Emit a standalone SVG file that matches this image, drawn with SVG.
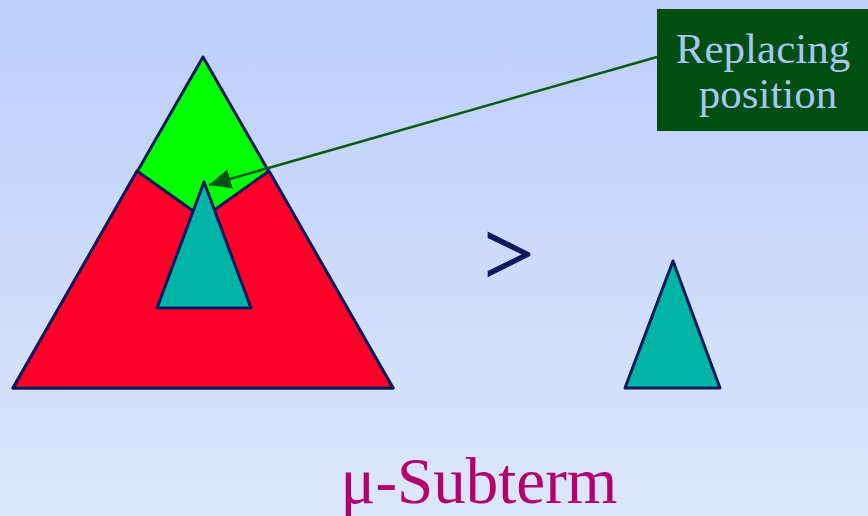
<svg xmlns="http://www.w3.org/2000/svg" width="868" height="516" viewBox="0 0 868 516">
<defs>
<linearGradient id="bg" x1="0" y1="0" x2="0" y2="1">
<stop offset="0" stop-color="#bccffb"/>
<stop offset="1" stop-color="#dce7fc"/>
</linearGradient>
<marker id="ah" markerWidth="24" markerHeight="20" refX="22" refY="10" orient="auto" markerUnits="userSpaceOnUse">
<path d="M0,0 L22,10 L0,20 Z" fill="#005510"/>
</marker>
<style>
.tri{stroke:#0c1a5c;stroke-width:3;stroke-linejoin:round}
.serif{font-family:"Liberation Serif","Times New Roman",serif}
</style>
</defs>
<rect width="868" height="516" fill="url(#bg)"/>
<g id="big-term">
<polygon class="tri" points="203,57 13,388 393,388" fill="#00ff00"/>
<polygon class="tri" points="13,388 137,171 203,218 269,171 393,388" fill="#ff0029"/>
</g>
<g id="inner-subterm">
<polygon class="tri" points="204,182 157,308 251,308" fill="#00b4a6"/>
</g>
<g id="gt">
<text class="serif" x="484" y="284" font-size="88" fill="#0c1a5c" stroke="#0c1a5c" stroke-width="1.6">&gt;</text>
</g>
<g id="subterm">
<polygon class="tri" points="673,261 625,388 720,388" fill="#00b4a6"/>
</g>
<g id="label-box">
<rect x="657" y="9" width="211" height="122" fill="#004f10"/>
<text class="serif" x="763" y="63" font-size="43" fill="#a8c6f2" text-anchor="middle">Replacing</text>
<text class="serif" x="768" y="108" font-size="43" fill="#a8c6f2" text-anchor="middle">position</text>
</g>
<g id="connectors">
<line x1="657" y1="57" x2="209" y2="185" stroke="#0b5a14" stroke-width="2.5" marker-end="url(#ah)"/>
</g>
<g id="caption">
<text class="serif" x="479" y="503" font-size="65" fill="#b4006a" text-anchor="middle">μ-Subterm</text>
</g>
</svg>
